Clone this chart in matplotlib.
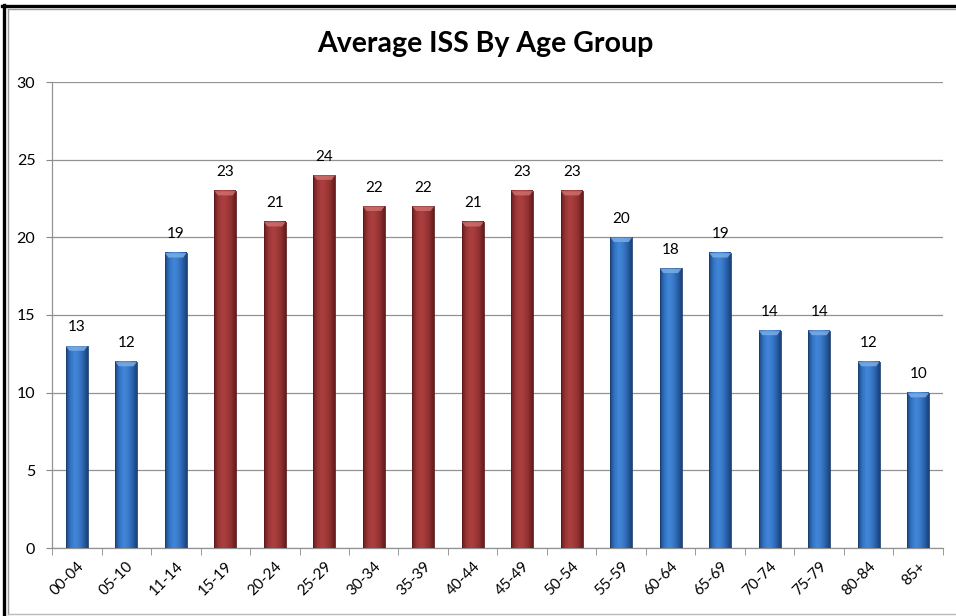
import matplotlib.pyplot as plt
import numpy as np
from matplotlib.colors import LinearSegmentedColormap
from matplotlib.lines import Line2D
from matplotlib.patches import Polygon

age_groups = ['00-04', '05-10', '11-14', '15-19', '20-24', '25-29', '30-34', '35-39', '40-44',
              '45-49', '50-54', '55-59', '60-64', '65-69', '70-74', '75-79', '80-84', '85+']
avg_iss = [13, 12, 19, 23, 21, 24, 22, 22, 21, 23, 23, 20, 18, 19, 14, 14, 12, 10]
highlighted = ['15-19', '20-24', '25-29', '30-34', '35-39', '40-44', '45-49', '50-54']

# horizontal shading to give the bars a rounded look
blue_cmap = LinearSegmentedColormap.from_list(
    'blue_bar', ['#1c4780', '#3273c4', '#4287d8', '#3a7bcc', '#2a62ab', '#1a427a'])
red_cmap = LinearSegmentedColormap.from_list(
    'red_bar', ['#6a1d1d', '#9a3535', '#ac4040', '#a33a3a', '#8c2f2f', '#641b1b'])
blue_cap = '#7fb0ea'
red_cap = '#d07272'

plt.rcParams['font.family'] = ['Lato', 'DejaVu Sans']

fig = plt.figure(figsize=(9.56, 6.16), dpi=100)
ax = fig.add_axes([52 / 956, 1 - 548 / 616, 891 / 956, 466 / 616])

x = np.arange(len(age_groups))
width = 0.44
grad = np.linspace(0, 1, 64).reshape(1, -1)

for xi, name, val in zip(x, age_groups, avg_iss):
    hot = name in highlighted
    cmap = red_cmap if hot else blue_cmap
    left, right = xi - width / 2, xi + width / 2
    ax.imshow(grad, cmap=cmap, aspect='auto', extent=[left, right, 0, val],
              interpolation='bicubic', zorder=3)
    ax.bar(xi, val, width=width, fill=False,
           edgecolor='#5a1818' if hot else '#1a3c6c', linewidth=0.6, zorder=4)
    # bevelled top edge
    cap_h = 0.3
    ax.add_patch(Polygon([[left, val], [right, val], [right - 0.07, val - cap_h],
                          [left + 0.07, val - cap_h]], closed=True,
                         facecolor=red_cap if hot else blue_cap, edgecolor='none',
                         alpha=0.8, zorder=4))
    ax.text(xi, val + 0.75, str(val), ha='center', va='bottom', fontsize=11, color='black')

ax.set_xlim(-0.5, len(age_groups) - 0.5)
ax.set_ylim(0, 30)
ax.set_yticks(range(0, 31, 5))
ax.set_xticks(x)
ax.set_xticklabels(age_groups, rotation=45, ha='right', rotation_mode='anchor', fontsize=11)
ax.tick_params(axis='y', labelsize=11.5, length=4, color='#888888', pad=8)
ax.tick_params(axis='x', length=0, pad=8)
# category boundary ticks below the axis
ax.set_xticks(np.arange(-0.5, len(age_groups), 1), minor=True)
ax.tick_params(axis='x', which='minor', length=5, color='#888888')

ax.grid(axis='y', color='#929292', linewidth=0.9, zorder=0)
ax.set_axisbelow(True)
for side in ['top', 'right']:
    ax.spines[side].set_visible(False)
for side in ['left', 'bottom']:
    ax.spines[side].set_color('#929292')
    ax.spines[side].set_linewidth(0.9)

fig.text(485 / 956, 1 - 44 / 616, 'Average ISS By Age Group', ha='center', va='center',
         fontsize=20.5, fontweight='bold')

# chart frame
W, H = 956, 616
def px(xp, yp):
    return xp / W, 1 - yp / H
fig.add_artist(Line2D([px(2, 0)[0], 1], [px(0, 6)[1]] * 2, color='black', linewidth=2.4))
fig.add_artist(Line2D([px(4, 0)[0]] * 2, [px(0, 5)[1], 0], color='black', linewidth=2.4))
fig.add_artist(Line2D([px(8, 0)[0], 1], [px(0, 9)[1]] * 2, color='#999999', linewidth=1))
fig.add_artist(Line2D([px(8, 0)[0]] * 2, [px(0, 9)[1], px(0, 614)[1]], color='#999999', linewidth=1))
fig.add_artist(Line2D([px(8, 0)[0], 1], [px(0, 614)[1]] * 2, color='#bbbbbb', linewidth=1))

fig.savefig('out.png', dpi=100)
